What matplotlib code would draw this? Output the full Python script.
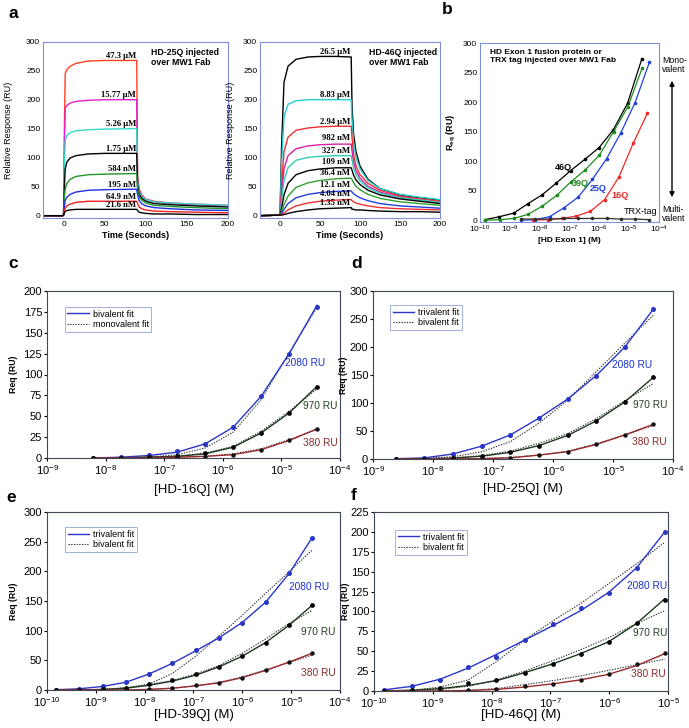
import numpy as np
import matplotlib
matplotlib.use('Agg')
import matplotlib.pyplot as plt
from matplotlib.lines import Line2D
from matplotlib.patches import FancyArrowPatch
from matplotlib.ticker import NullLocator

plt.rcParams['font.family'] = ['Liberation Sans', 'DejaVu Sans']
plt.rcParams['mathtext.default'] = 'regular'

# ---------------- Panel a (left): HD-25Q sensorgrams ----------------
time_25q = [-25, -1, 0, 1, 2, 4, 8, 15, 30, 50, 88, 89, 90, 92, 95, 100, 110, 130, 160, 200]
labels_25q = ['47.3 µM', '15.77 µM', '5.26 µM', '1.75 µM', '584 nM', '195 nM', '64.9 nM', '21.6 nM']
colors_25q = ['#ff4020', '#e020c8', '#30dcc8', '#000000', '#20962a', '#2030e8', '#f02020', '#000000']
resp_25q_a = [-1, -1, 0, 150, 245, 252, 258, 263, 267, 268, 268, 268, 70, 45, 35, 28, 24, 21, 19, 17]
resp_25q_b = [-1, -1, 0, 110, 185, 190, 194, 197, 199, 200, 200, 200, 62, 42, 33, 27, 23, 20, 18, 16]
resp_25q_c = [-1, -1, 0, 80, 130, 138, 143, 146, 148, 149, 150, 150, 58, 40, 32, 27, 23, 21, 19, 17]
resp_25q_d = [-1, -1, 0, 50, 80, 92, 99, 103, 106, 107, 107, 107, 50, 36, 29, 24, 20, 18, 16, 14]
resp_25q_e = [-1, -1, 0, 30, 45, 55, 62, 67, 70, 71, 72, 72, 45, 32, 26, 21, 17, 15, 13, 11]
resp_25q_f = [-1, -1, 0, 15, 25, 31, 36, 40, 43, 44, 45, 44, 36, 25, 20, 16, 13, 11, 9, 8]
resp_25q_g = [-1, -1, 0, 7, 12, 16, 19, 22, 24, 24, 24, 24, 20, 14, 11, 9, 7, 6, 5, 4]
resp_25q_h = [-1, -1, 0, 4, 6, 8, 9, 10, 10, 10, 10, 10, 8, 5, 4, 3, 2, 2, 1, 1]
resp_25q = [resp_25q_a, resp_25q_b, resp_25q_c, resp_25q_d,
            resp_25q_e, resp_25q_f, resp_25q_g, resp_25q_h]

# ---------------- Panel a (right): HD-46Q sensorgrams ----------------
time_46q = [-25, 0, 2, 5, 10, 20, 35, 50, 70, 89, 90, 92, 95, 100, 110, 125, 150, 175, 200]
labels_46q = ['26.5 µM', '8.83 µM', '2.94 µM', '982 nM', '327 nM', '109 nM',
              '36.4 nM', '12.1 nM', '4.04 nM', '1.35 nM']
colors_46q = ['#000000', '#20d0d0', '#f03030', '#d820a8', '#30d0b8', '#000000',
              '#30a030', '#2040e0', '#f03030', '#000000']
resp_46q_a = [-1, 0, 120, 230, 258, 270, 274, 275, 275, 274, 190, 140, 110, 85, 62, 46, 35, 30, 26]
resp_46q_b = [-1, 0, 90, 170, 192, 198, 200, 200, 200, 200, 165, 125, 100, 80, 60, 46, 36, 31, 27]
resp_46q_c = [-1, 0, 50, 110, 135, 147, 151, 153, 154, 154, 135, 105, 85, 70, 55, 43, 33, 28, 24]
resp_46q_d = [-1, 0, 35, 80, 103, 115, 120, 122, 123, 123, 112, 92, 77, 64, 50, 40, 31, 26, 22]
resp_46q_e = [-1, 0, 25, 60, 82, 95, 100, 102, 103, 103, 96, 82, 70, 59, 47, 38, 30, 26, 22]
resp_46q_f = [-1, 0, 12, 35, 55, 70, 77, 80, 82, 82, 78, 69, 61, 53, 43, 35, 28, 24, 20]
resp_46q_g = [-1, 0, 6, 18, 33, 48, 56, 60, 63, 64, 62, 56, 50, 44, 36, 29, 23, 20, 17]
resp_46q_h = [-1, 0, 3, 10, 20, 30, 36, 39, 41, 42, 40, 37, 34, 30, 25, 20, 16, 14, 12]
resp_46q_i = [-1, 0, 1, 4, 9, 16, 21, 24, 26, 27, 25, 23, 21, 19, 16, 13, 11, 10, 9]
resp_46q_j = [-1, 0, 0, 1, 3, 6, 9, 11, 12, 13, 10, 10, 9, 9, 8, 7, 6, 6, 5]
resp_46q = [resp_46q_a, resp_46q_b, resp_46q_c, resp_46q_d, resp_46q_e,
            resp_46q_f, resp_46q_g, resp_46q_h, resp_46q_i, resp_46q_j]

# ---------------- concentrations (M) ----------------
conc_16q = [6.2e-9, 18.6e-9, 55.8e-9, 167e-9, 502e-9, 1.51e-6, 4.52e-6, 13.6e-6, 40.7e-6]
conc_25q = [2.4e-9, 7.2e-9, 21.6e-9, 64.9e-9, 195e-9, 584e-9, 1.75e-6, 5.26e-6, 15.77e-6, 47.3e-6]
conc_39q = [0.152e-9, 0.457e-9, 1.37e-9, 4.1e-9, 12.3e-9, 37e-9, 111e-9, 333e-9,
            1.0e-6, 3.0e-6, 9.0e-6, 27e-6]
conc_46q = [0.150e-9, 0.449e-9, 1.35e-9, 4.04e-9, 12.1e-9, 36.4e-9, 109e-9, 327e-9,
            982e-9, 2.94e-6, 8.83e-6, 26.5e-6]
conc_trx = [2.4e-9, 7.2e-9, 21.6e-9, 64.9e-9, 195e-9, 584e-9, 1.75e-6, 5.26e-6, 15.77e-6, 47.3e-6]

# ---------------- Panel b: Req vs concentration ----------------
b_46q = [1, 6, 12, 28, 43, 63, 84, 103, 123, 153, 198, 273]
b_39q = [0, 1, 3, 10, 24, 42, 65, 85, 110, 150, 192, 257]
b_25q = [0, 1, 6, 21, 39, 69, 104, 148, 199, 267]
b_16q = [0, 1, 3, 7, 15, 35, 73, 130, 181]
b_trx = [2, 2, 2, 3, 3, 3, 3, 2, 2, 1]

# ---------------- Panel c: HD-16Q ----------------
c_2080 = [0, 1, 3, 8, 17, 37, 74, 125, 181]
c_970 = [0, 0, 1, 2, 6, 13, 30, 54, 85]
c_380 = [0, 0, 0, 1, 1, 4, 10, 21, 35]
c_2080_fit = [0, 1, 3, 7, 17, 37, 74, 125, 183]
c_970_fit = [0, 0, 1, 2, 5, 13, 30, 54, 86]
c_380_fit = [0, 0, 0, 1, 2, 4, 10, 21, 35]
c_2080_alt = [0, 0.5, 1, 4, 12, 31, 70, 126, 181]
c_970_alt = [0, 0, 1, 2, 6, 14, 32, 56, 83]
c_380_alt = [0, 0, 0, 1, 2, 5, 11, 22, 34]

# ---------------- Panel d: HD-25Q ----------------
d_2080 = [0.5, 2, 9, 23, 43, 73, 107, 149, 200, 268]
d_970 = [0, 0, 1, 5, 12, 24, 42, 68, 102, 146]
d_380 = [0, 0, 0, 0, 2, 7, 13, 26, 43, 62]
d_2080_fit = [0.5, 2, 9, 23, 43, 73, 107, 149, 200, 268]
d_970_fit = [0, 0.5, 1.5, 5, 12, 24, 42, 68, 102, 146]
d_380_fit = [0, 0, 0, 0.5, 2, 7, 13, 26, 43, 62]
d_2080_alt = [0, 1, 4, 13, 31, 64, 105, 156, 207, 257]
d_970_alt = [0, 0.5, 2, 6, 14, 28, 45, 72, 104, 135]
d_380_alt = [0, 0, 0, 1, 3, 7, 14, 27, 43, 60]

# ---------------- Panel e: HD-39Q ----------------
e_2080 = [0.5, 2, 6, 13, 27, 45, 67, 87, 113, 148, 197, 257]
e_970 = [0, 0, 1, 4, 10, 17, 27, 39, 58, 80, 110, 143]
e_380 = [0, 0, 0, 0, 1, 4, 8, 12, 20, 34, 47, 63]
e_2080_fit = [0.5, 2, 6, 13, 27, 45, 66, 88, 114, 148, 196, 257]
e_970_fit = [0, 0, 1, 3, 8, 15, 25, 39, 57, 80, 109, 143]
e_380_fit = [0, 0, 0, 0, 1, 3, 7, 12, 21, 33, 47, 62]
e_2080_alt = [0, 0, 1, 3, 10, 28, 57, 91, 126, 163, 199, 236]
e_970_alt = [0, 0, 1, 4, 9, 16, 27, 41, 62, 86, 112, 134]
e_380_alt = [0, 0, 0, 0, 1, 3, 7, 13, 22, 34, 46, 59]

# ---------------- Panel f: HD-46Q ----------------
conc_46q_f = conc_46q[:11]
f_2080 = [1, 6, 14, 30, 43, 64, 84, 104, 123, 154, 200]
f_970 = [0, 1, 4, 10, 14, 23, 34, 46, 61, 85, 115]
f_380 = [0, 0, 0, 1, 2, 6, 9, 14, 21, 34, 48]
f_2080_fit = [1.5, 6, 15, 29, 46, 64, 82, 101, 124, 155, 200]
f_970_fit = [0, 1, 3, 7, 13, 23, 34, 47, 62, 85, 116]
f_380_fit = [0, 0, 0, 0.5, 2, 5, 9, 14, 21, 32, 47]
f_2080_alt = [0, 1, 5, 14, 37, 64, 88, 110, 135, 160, 187]
f_970_alt = [0, 0.5, 2, 6, 14, 25, 38, 52, 67, 85, 101]
f_380_alt = [0, 0, 0, 1, 3, 8, 13, 19, 26, 33, 40]

# ====================================================================
W, H = 689, 728
fig = plt.figure(figsize=(W / 100, H / 100), dpi=100)


def add_ax(x0, y0, x1, y1):
    return fig.add_axes([x0 / W, 1 - y1 / H, (x1 - x0) / W, (y1 - y0) / H])


def fig_text(px, py, s, **kw):
    fig.text(px / W, 1 - py / H, s, **kw)


FRAME_A = '#8090e0'
serif = ['Liberation Serif', 'DejaVu Serif']


def style_a(ax):
    for sp in ax.spines.values():
        sp.set_color(FRAME_A)
        sp.set_linewidth(0.8)
    ax.tick_params(labelsize=6, length=0, pad=2)


# ---- panel a left
axL = add_ax(43, 42, 228, 218)
for vals, col in zip(resp_25q, colors_25q):
    axL.plot(time_25q, vals, color=col, lw=1.0)
axL.set_xlim(-25, 200)
axL.set_ylim(-5, 300)
axL.set_xticks([0, 50, 100, 150, 200])
axL.set_yticks([0, 50, 100, 150, 200, 250, 300])
style_a(axL)
axL.set_ylabel('Relative Response (RU)', fontsize=6.5)
axL.yaxis.set_label_coords(-0.16, 0.5)
axL.set_xlabel('Time (Seconds)', fontsize=6.5, fontweight='bold')
axL.xaxis.set_label_coords(0.5, -0.075)
for vals, lab in zip(resp_25q, labels_25q):
    axL.text(88, vals[10] + 1, lab, ha='right', va='bottom', fontsize=6.2,
             fontweight='bold', family=serif)
axL.text(0.585, 0.965, 'HD-25Q injected\nover MW1 Fab', transform=axL.transAxes,
         ha='left', va='top', fontsize=6.3, fontweight='bold', linespacing=1.1)

# ---- panel a right
axR = add_ax(260, 42, 440, 218)
for vals, col in zip(resp_46q, colors_46q):
    axR.plot(time_46q, vals, color=col, lw=1.0)
axR.set_xlim(-25, 200)
axR.set_ylim(-5, 300)
axR.set_xticks([0, 50, 100, 150, 200])
axR.set_yticks([0, 50, 100, 150, 200, 250, 300])
style_a(axR)
axR.set_ylabel('Relative Response (RU)', fontsize=6.5)
axR.yaxis.set_label_coords(-0.14, 0.5)
axR.set_xlabel('Time (Seconds)', fontsize=6.5, fontweight='bold')
axR.xaxis.set_label_coords(0.5, -0.075)
label_y_46q = [276, 201, 155, 126, 105, 85, 66, 45, 30, 14]
for yv, lab in zip(label_y_46q, labels_46q):
    axR.text(88, yv, lab, ha='right', va='bottom', fontsize=6.2,
             fontweight='bold', family=serif)
axR.text(0.605, 0.965, 'HD-46Q injected\nover MW1 Fab', transform=axR.transAxes,
         ha='left', va='top', fontsize=6.3, fontweight='bold', linespacing=1.1)


def log_ticks(ax, lo, hi, fs):
    ax.set_xscale('log')
    ax.set_xticks([10.0 ** e for e in range(lo, hi + 1)])
    ax.set_xticklabels(['10$^{%d}$' % e for e in range(lo, hi + 1)], fontsize=fs)
    ax.xaxis.set_minor_locator(NullLocator())


# ---- panel b
axB = add_ax(480, 43, 659, 222)
axB.plot(conc_46q, b_46q, '-o', color='black', lw=0.9, ms=1.6)
axB.plot(conc_39q, b_39q, '-o', color='#1e8c1e', lw=0.9, ms=1.6)
axB.plot(conc_25q, b_25q, '-o', color='#2040e0', lw=0.9, ms=1.6)
axB.plot(conc_16q, b_16q, '-o', color='#f02828', lw=0.9, ms=1.6)
axB.plot(conc_trx, b_trx, '-o', color='#303030', lw=0.9, ms=1.6)
log_ticks(axB, -10, -4, 6)
axB.set_xlim(1e-10, 1e-4)
axB.set_ylim(-3, 300)
axB.set_yticks([0, 50, 100, 150, 200, 250, 300])
style_a(axB)
axB.tick_params(axis='x', pad=1)
axB.set_ylabel('R$_{eq}$ (RU)', fontsize=6.5, fontweight='bold')
axB.yaxis.set_label_coords(-0.125, 0.5)
axB.set_xlabel('[HD Exon 1] (M)', fontsize=6, fontweight='bold')
axB.xaxis.set_label_coords(0.5, -0.085)
axB.text(0.055, 0.965, 'HD Exon 1 fusion protein or\nTRX tag injected over MW1 Fab',
         transform=axB.transAxes, ha='left', va='top', fontsize=6, fontweight='bold',
         linespacing=1.15)
axB.text(10 ** -7.2, 90, '46Q', color='black', fontsize=6.5, fontweight='bold', ha='center', va='center')
axB.text(10 ** -6.65, 63, '39Q', color='#1e8c1e', fontsize=6.5, fontweight='bold', ha='center', va='center')
axB.text(10 ** -6.05, 54, '25Q', color='#2040e0', fontsize=6.5, fontweight='bold', ha='center', va='center')
axB.text(10 ** -5.3, 42, '16Q', color='#f02828', fontsize=6.5, fontweight='bold', ha='center', va='center')
axB.text(10 ** -4.05, 14, 'TRX-tag', color='black', fontsize=6.5, ha='right', va='center')
fig_text(662, 56, 'Mono-\nvalent', fontsize=6.3, ha='left', va='top', linespacing=1.05)
fig_text(662, 205, 'Multi-\nvalent', fontsize=6.3, ha='left', va='top', linespacing=1.05)
fig.add_artist(FancyArrowPatch((672 / W, 1 - 78 / H), (672 / W, 1 - 200 / H),
                               transform=fig.transFigure, arrowstyle='<|-|>',
                               mutation_scale=7, color='black', lw=1.0))

# ---- panels c-f
BLUE = '#2a36c8'
GREEN = '#1e3a1e'
RED = '#9a2a2a'
DOT = (0, (1.2, 1.2))


def binding_panel(ax, conc, d2080, d970, d380, f2080, f970, f380,
                  a2080, a970, a380, lo, hi, ymax, ystep, legend_labels,
                  leg_xy, lab_pos, xlabel, xlab_y, ylab_x):
    ax.plot(conc, a2080, color='#303030', lw=0.8, ls=DOT)
    ax.plot(conc, a970, color='#303030', lw=0.8, ls=DOT)
    ax.plot(conc, a380, color='#303030', lw=0.8, ls=DOT)
    ax.plot(conc, f2080, color=BLUE, lw=1.0)
    ax.plot(conc, f970, color=GREEN, lw=1.0)
    ax.plot(conc, f380, color=RED, lw=1.0)
    ax.plot(conc, d2080, 'o', color=BLUE, ms=2.6)
    ax.plot(conc, d970, 'o', color='black', ms=2.4)
    ax.plot(conc, d380, 'o', color='#111111', ms=2.2)
    log_ticks(ax, lo, hi, 8)
    ax.set_xlim(10.0 ** lo, 10.0 ** hi)
    ax.set_ylim(0, ymax)
    ax.set_yticks(np.arange(0, ymax + 1, ystep))
    ax.tick_params(labelsize=8, length=2, pad=1.5)
    for sp in ax.spines.values():
        sp.set_color('#404858')
        sp.set_linewidth(0.8)
    handles = [Line2D([], [], color=BLUE, lw=1.0),
               Line2D([], [], color='#303030', lw=0.8, ls=DOT)]
    leg = ax.legend(handles, legend_labels, loc='upper left', bbox_to_anchor=leg_xy,
                    borderaxespad=0, fontsize=6.5, handlelength=2.4, handletextpad=0.4,
                    borderpad=0.3, labelspacing=0.15, fancybox=False, framealpha=1)
    leg.get_frame().set_edgecolor('#a0b0dd')
    leg.get_frame().set_linewidth(0.7)
    (x1, y1), (x2, y2), (x3, y3) = lab_pos
    ax.text(10 ** x1, y1, '2080 RU', color='#1a30d0', fontsize=7.3, ha='center', va='center')
    ax.text(10 ** x2, y2, '970 RU', color='#244020', fontsize=7.3, ha='center', va='center')
    ax.text(10 ** x3, y3, '380 RU', color='#8a2a2a', fontsize=7.3, ha='center', va='center')
    ax.set_xlabel(xlabel, fontsize=9.5)
    ax.xaxis.set_label_coords(0.5, xlab_y)
    ax.set_ylabel('Req (RU)', fontsize=6.3, fontweight='bold')
    ax.yaxis.set_label_coords(ylab_x, 0.5)


axC = add_ax(47, 291, 340, 458)
binding_panel(axC, conc_16q, c_2080, c_970, c_380, c_2080_fit, c_970_fit, c_380_fit,
              c_2080_alt, c_970_alt, c_380_alt, -9, -4, 200, 25,
              ['bivalent fit', 'monovalent fit'], (0.06, 0.905),
              [(-4.6, 114), (-4.33, 62), (-4.33, 18)], '[HD-16Q] (M)', -0.155, -0.1)

axD = add_ax(373, 291, 673, 459)
binding_panel(axD, conc_25q, d_2080, d_970, d_380, d_2080_fit, d_970_fit, d_380_fit,
              d_2080_alt, d_970_alt, d_380_alt, -9, -4, 300, 50,
              ['trivalent fit', 'bivalent fit'], (0.057, 0.915),
              [(-4.68, 168), (-4.38, 96), (-4.4, 30)], '[HD-25Q] (M)', -0.145, -0.083)

axE = add_ax(47, 512, 340, 690)
binding_panel(axE, conc_39q, e_2080, e_970, e_380, e_2080_fit, e_970_fit, e_380_fit,
              e_2080_alt, e_970_alt, e_380_alt, -10, -4, 300, 50,
              ['trivalent fit', 'bivalent fit'], (0.061, 0.915),
              [(-4.64, 174), (-4.44, 98), (-4.44, 29)], '[HD-39Q] (M)', -0.105, -0.1)

axF = add_ax(374, 512, 668, 691)
binding_panel(axF, conc_46q_f, f_2080, f_970, f_380, f_2080_fit, f_970_fit, f_380_fit,
              f_2080_alt, f_970_alt, f_380_alt, -10, -5, 225, 25,
              ['trivalent fit', 'bivalent fit'], (0.071, 0.9),
              [(-5.36, 132), (-5.31, 73), (-5.33, 21)], '[HD-46Q] (M)', -0.1, -0.082)

# panel letters
for px, py, s in [(13, 14, 'a'), (447, 10, 'b'), (13, 263, 'c'), (357, 263, 'd'),
                  (11, 497, 'e'), (354, 495, 'f')]:
    fig_text(px, py, s, fontsize=12.5, fontweight='bold', ha='center', va='center')

fig.savefig('out.png', dpi=100)
